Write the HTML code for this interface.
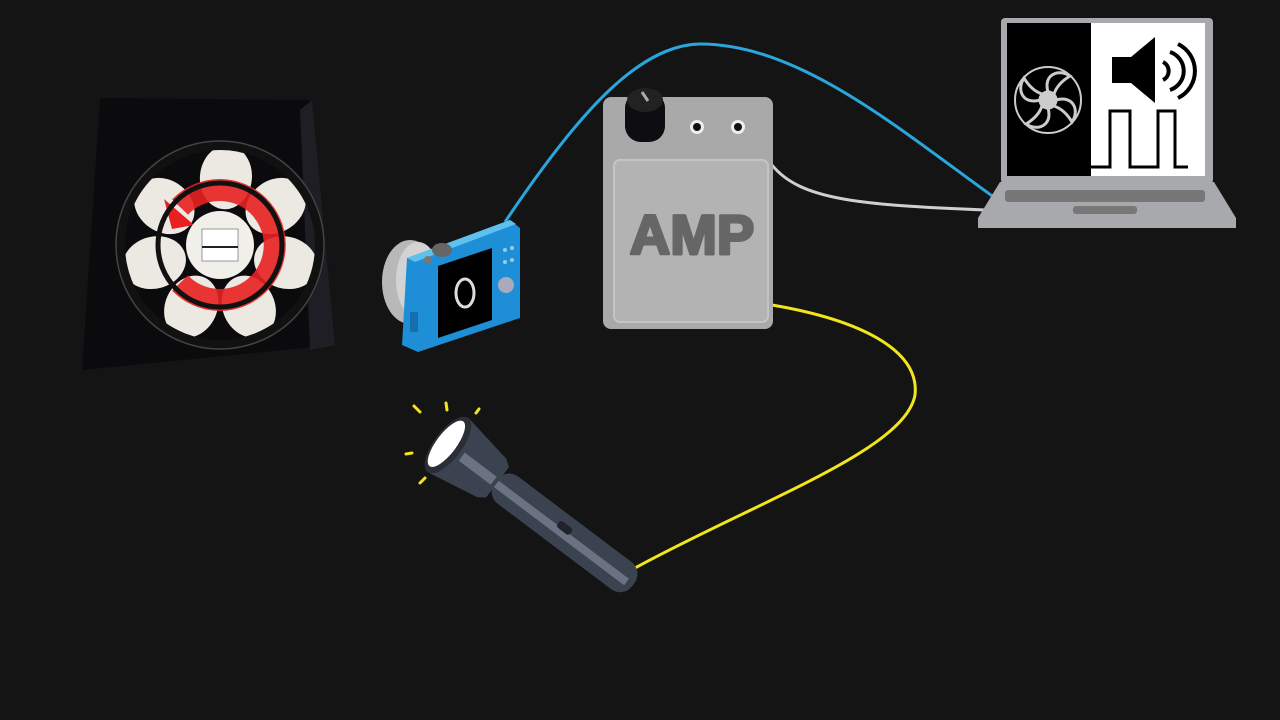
<!DOCTYPE html>
<html><head><meta charset="utf-8"><style>
html,body{margin:0;padding:0;background:#151414;}
svg{display:block}
</style></head><body>
<svg width="1280" height="720" viewBox="0 0 1280 720" xmlns="http://www.w3.org/2000/svg">
<rect width="1280" height="720" fill="#151414"/>
<!-- cables -->
<path d="M505,222 C580,110 640,45 700,44 C800,44 900,130 995,198" fill="none" stroke="#2aa6dc" stroke-width="3"/>
<path d="M772,165 C800,200 860,205 985,210" fill="none" stroke="#cfcfcf" stroke-width="3"/>
<path d="M772,305 C860,320 920,350 915,395 C905,450 760,500 635,568" fill="none" stroke="#f2e51c" stroke-width="3"/>

<!-- fan photo -->
<polygon points="100,98 312,100 335,345 82,370" fill="#0b0a0d"/>
<polygon points="300,110 312,100 335,345 310,350" fill="#1e1e24"/>
<g transform="translate(220,245)">
  <g fill="#ece9e2">
    <ellipse cx="0" cy="-68" rx="26" ry="32" transform="rotate(5)"/>
    <ellipse cx="0" cy="-68" rx="26" ry="32" transform="rotate(55)"/>
    <ellipse cx="0" cy="-68" rx="26" ry="32" transform="rotate(105)"/>
    <ellipse cx="0" cy="-68" rx="26" ry="32" transform="rotate(155)"/>
    <ellipse cx="0" cy="-68" rx="26" ry="32" transform="rotate(205)"/>
    <ellipse cx="0" cy="-68" rx="26" ry="32" transform="rotate(255)"/>
    <ellipse cx="0" cy="-68" rx="26" ry="32" transform="rotate(305)"/>
  </g>
  <path d="M-40,-38 A55,55 0 1 1 -40,38" fill="none" stroke="#e82020" stroke-width="22" opacity="0.9"/>
  <polygon points="-56,-46 -26,-20 -48,-16" fill="#e82020"/>
  <circle r="100" fill="none" stroke="#111" stroke-width="10"/>
  <circle r="104" fill="none" stroke="#444" stroke-width="1.5"/>
  <circle r="62" fill="none" stroke="#111" stroke-width="5"/>
  <circle r="34" fill="#f1efe9"/>
  <rect x="-18" y="-16" width="36" height="32" fill="#fff" stroke="#999"/>
  <line x1="-18" y1="2" x2="18" y2="2" stroke="#222" stroke-width="2"/>
</g>

<!-- camera -->
<g>
  <ellipse cx="410" cy="282" rx="28" ry="42" fill="#b8b8b8"/>
  <ellipse cx="418" cy="280" rx="22" ry="38" fill="#d3d3d3"/>
  <polygon points="407,258 510,220 520,228 520,318 418,352 402,345" fill="#1e8fd6"/>
  <polygon points="407,258 510,220 516,224 415,262" fill="#5fc0ee"/>
  <polygon points="438,266 492,248 492,320 438,338" fill="#000"/>
  <ellipse cx="465" cy="293" rx="9" ry="14" fill="none" stroke="#ddd" stroke-width="3"/>
  <circle cx="506" cy="285" r="8" fill="#aab"/>
  <circle cx="505" cy="250" r="2" fill="#9cd"/><circle cx="512" cy="248" r="2" fill="#9cd"/>
  <circle cx="505" cy="262" r="2" fill="#9cd"/><circle cx="512" cy="260" r="2" fill="#9cd"/>
  <ellipse cx="442" cy="250" rx="10" ry="7" fill="#666"/>
  <circle cx="428" cy="260" r="4" fill="#777"/>
  <rect x="410" y="312" width="8" height="20" fill="#1670b0"/>
</g>

<!-- AMP -->
<rect x="603" y="97" width="170" height="232" rx="8" fill="#a9a9a9"/>
<rect x="614" y="160" width="154" height="162" rx="6" fill="#b3b3b3" stroke="#c4c4c4" stroke-width="2"/>
<circle cx="697" cy="127" r="7" fill="#eee"/><circle cx="697" cy="127" r="4" fill="#111"/>
<circle cx="738" cy="127" r="7" fill="#eee"/><circle cx="738" cy="127" r="4" fill="#111"/>
<rect x="625" y="92" width="40" height="50" rx="16" fill="#0d0d12"/>
<ellipse cx="645" cy="100" rx="18" ry="12" fill="#222"/>
<line x1="642" y1="92" x2="648" y2="101" stroke="#aaa" stroke-width="3"/>
<text x="692" y="254" text-anchor="middle" font-family="Liberation Sans, sans-serif" font-weight="bold" font-size="56" fill="#666" stroke="#666" stroke-width="3" stroke-linejoin="round">AMP</text>

<!-- laptop -->
<rect x="1001" y="18" width="212" height="166" rx="4" fill="#a8a9ad"/>
<rect x="1007" y="23" width="84" height="153" fill="#000"/>
<rect x="1091" y="23" width="114" height="153" fill="#fff"/>
<polygon points="1000,182 1214,182 1236,218 1236,228 978,228 978,218" fill="#a8a9ad"/>
<rect x="1005" y="190" width="200" height="12" rx="3" fill="#777"/>
<rect x="1073" y="206" width="64" height="8" rx="3" fill="#777"/>
<g transform="translate(1048,100)" fill="none" stroke="#ccc" stroke-width="3">
  <circle r="33" stroke-width="2"/>
  <circle r="8" fill="#ccc"/>
  <path d="M0,-8 C-5,-25 10,-32 22,-24 C12,-18 8,-12 6,-6"/>
  <path d="M0,-8 C-5,-25 10,-32 22,-24 C12,-18 8,-12 6,-6" transform="rotate(90)"/>
  <path d="M0,-8 C-5,-25 10,-32 22,-24 C12,-18 8,-12 6,-6" transform="rotate(180)"/>
  <path d="M0,-8 C-5,-25 10,-32 22,-24 C12,-18 8,-12 6,-6" transform="rotate(270)"/>
</g>
<polygon points="1112,57 1131,57 1155,37 1155,103 1131,83 1112,83" fill="#000"/>
<path d="M1163,62 A10,10 0 0 1 1163,80" fill="none" stroke="#000" stroke-width="4"/>
<path d="M1170,52 A20,20 0 0 1 1170,90" fill="none" stroke="#000" stroke-width="4"/>
<path d="M1178,44 A30,30 0 0 1 1178,98" fill="none" stroke="#000" stroke-width="4"/>
<polyline points="1091,167 1110,167 1110,111 1130,111 1130,167 1158,167 1158,111 1175,111 1175,167 1188,167" fill="none" stroke="#000" stroke-width="3"/>

<!-- flashlight -->
<g transform="translate(448,445) rotate(37)">
  <rect x="60" y="-17" width="172" height="34" rx="15" fill="#3c4350"/>
  <rect x="60" y="-2" width="165" height="8" fill="#6b7383"/>
  <rect x="135" y="-8" width="16" height="8" rx="3" fill="#1f232b"/>
  <path d="M0,-34 L55,-24 L62,-19 L62,19 L55,24 L0,34 Z" fill="#3c4350"/>
  <rect x="18" y="-4" width="40" height="10" fill="#6b7383"/>
  <ellipse cx="0" cy="0" rx="14" ry="34" fill="#2a2e36"/>
  <ellipse cx="-2" cy="0" rx="10" ry="28" fill="#fff"/>
</g>
<g stroke="#f2e51c" stroke-width="3" stroke-linecap="round">
  <line x1="420" y1="412" x2="414" y2="406"/>
  <line x1="447" y1="410" x2="446" y2="403"/>
  <line x1="476" y1="413" x2="479" y2="409"/>
  <line x1="412" y1="453" x2="406" y2="454"/>
  <line x1="425" y1="478" x2="420" y2="483"/>
</g>
</svg>
</body></html>
